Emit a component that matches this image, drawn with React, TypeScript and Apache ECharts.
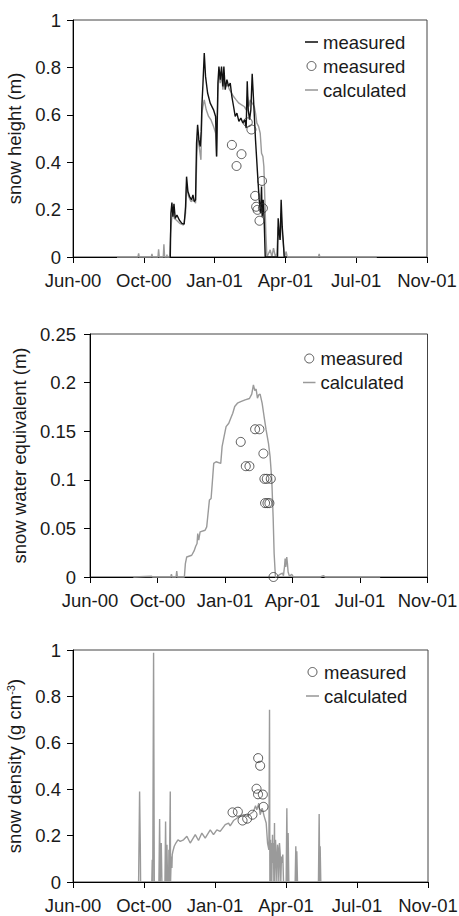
import React, { useEffect, useRef } from 'react';
import * as echarts from 'echarts';

// x values are days counted from the first axis tick (labelled Jun-00); ticks every 100 days
const TICK_LABELS = ['Jun-00', 'Oct-00', 'Jan-01', 'Apr-01', 'Jul-01', 'Nov-01'];

const LEGEND_LABELS: Record<string, string> = {
  'h-meas-line': 'measured',
  'h-meas-pts': 'measured',
  'h-calc': 'calculated',
  'swe-meas': 'measured',
  'swe-calc': 'calculated',
  'rho-meas': 'measured',
  'rho-calc': 'calculated',
};

// snow height (m), measured continuously
const heightMeasured: [number, number][] = [
  [136.4, 0], [137.4, 0], [138.3, 0.184], [139.7, 0.23], [141.1, 0.17], [142.6, 0.224], [144.4, 0.163],
  [146.8, 0.177], [150.1, 0.156], [153.8, 0.142], [157.1, 0.139], [159, 0.213], [160.4, 0.339],
  [162.3, 0.276], [164.7, 0.255], [167.5, 0.241], [169.4, 0.262], [171.3, 0.234], [173.1, 0.241],
  [174.5, 0.48], [176, 0.558], [177.8, 0.494], [179.7, 0.466], [181.1, 0.53], [182.1, 0.642],
  [183.5, 0.727], [185.4, 0.861], [187.2, 0.762], [190.1, 0.692], [193.8, 0.649], [198.5, 0.621],
  [201.4, 0.593], [202.8, 0.424], [204.7, 0.734], [206.1, 0.804], [208, 0.748], [209.8, 0.804],
  [211.7, 0.72], [213.1, 0.804], [215, 0.706], [217.4, 0.748], [219.7, 0.72], [222.1, 0.734],
  [224.4, 0.677], [226.8, 0.635], [229.1, 0.593], [231.5, 0.607], [234.3, 0.572], [237.1, 0.586],
  [239.9, 0.565], [242.8, 0.579], [244.6, 0.544], [246.1, 0.741], [247.5, 0.621], [249.4, 0.579],
  [251.2, 0.621], [253.1, 0.773], [255, 0.663], [257.8, 0.494], [260.6, 0.354], [263, 0.241],
  [264.9, 0.185], [266.3, 0.297], [267.2, 0.17], [268.6, 0.241], [270, 0.156], [271.5, 0],
  [288.9, 0], [289.8, 0.163], [291.2, 0.1], [292.6, 0.072], [294, 0.241], [295.5, 0.128],
  [296.9, 0.072], [298.3, 0], [302.1, 0],
];

// snow height (m), manual measurements
const heightMeasuredPoints: [number, number][] = [
  [224.4, 0.473], [231, 0.384], [238, 0.434], [246.8, 0.568], [252, 0.538], [257.3, 0.258],
  [258.7, 0.212], [260.6, 0.199], [263.4, 0.153], [267, 0.321], [268.2, 0.206],
];

// snow height (m), calculated
const heightCalculated: [number, number][] = [
  [62.1, 0], [91.7, 0], [92.7, 0.015], [93.6, 0], [110.6, 0], [111.5, 0.013], [112.4, 0], [120, 0],
  [120.9, 0.032], [121.9, 0], [127.5, 0], [128.4, 0.054], [129.4, 0], [132.2, 0], [132.7, 0.01],
  [133.1, 0], [136.4, 0], [137.8, 0.1], [139.3, 0.156], [141.1, 0.206], [143, 0.163], [145.8, 0.156],
  [150.6, 0.142], [156.2, 0.135], [159, 0.185], [160.4, 0.297], [163.3, 0.255], [166.5, 0.234],
  [170.3, 0.241], [173.1, 0.227], [175, 0.438], [176.4, 0.508], [178.8, 0.452], [180.7, 0.41],
  [182.1, 0.607], [183.5, 0.635], [185.4, 0.663], [188.2, 0.621], [191.5, 0.593], [194.8, 0.579],
  [198.5, 0.551], [201.4, 0.523], [202.8, 0.424], [204.7, 0.692], [206.1, 0.776], [208, 0.734],
  [209.8, 0.776], [211.7, 0.706], [213.6, 0.748], [215.5, 0.72], [218.3, 0.727], [221.1, 0.706],
  [223.9, 0.692], [226.8, 0.677], [230.5, 0.663], [234.3, 0.649], [238.1, 0.642], [241.8, 0.635],
  [244.6, 0.621], [246.5, 0.677], [248.4, 0.635], [250.3, 0.663], [253.1, 0.649], [256, 0.635],
  [257.8, 0.607], [259.7, 0.565], [262.1, 0.551], [264.4, 0.523], [266.3, 0.438], [268.2, 0.424],
  [269.6, 0.382], [271, 0.241], [272.4, 0.1], [273.9, 0], [276.2, 0.015], [278.5, 0.03], [280.9, 0],
  [283.2, 0.037], [286, 0], [287.9, 0.015], [289.8, 0.128], [291.2, 0.072], [292.6, 0.1], [294, 0.185],
  [295.5, 0.1], [297.4, 0.044], [298.8, 0], [301.1, 0.023], [302.5, 0], [346.7, 0], [347.7, 0.013],
  [348.6, 0], [429.1, 0],
];

// snow water equivalent (m), measured
const sweMeasured: [number, number][] = [
  [223.3, 0.139], [230.8, 0.114], [236.2, 0.114], [244.6, 0.152], [251, 0.152], [256.9, 0.127],
  [258.4, 0.101], [261.9, 0.101], [267.8, 0.101], [259.4, 0.076], [262.9, 0.076], [265.8, 0.076],
  [271.8, 0],
];

// snow water equivalent (m), calculated
const sweCalculated: [number, number][] = [
  [64.2, 0], [91.4, 0.0007], [92.9, 0], [119.6, 0], [120.6, 0.0028], [121.6, 0], [127.5, 0],
  [128.5, 0.0062], [129.5, 0], [137.4, 0], [139.8, 0], [141.3, 0.0138], [143.3, 0.0206],
  [150.7, 0.0224], [154.2, 0.0268], [156.6, 0.0316], [158.6, 0.0344], [159.6, 0.0447],
  [161.1, 0.0378], [163.1, 0.0464], [170.5, 0.0481], [172.9, 0.0516], [174.9, 0.0653],
  [176.9, 0.0791], [179.4, 0.0808], [181.3, 0.098], [183.3, 0.1169], [186.8, 0.1186],
  [193.7, 0.1169], [195.7, 0.1341], [198.6, 0.1444], [201.6, 0.1547], [205.6, 0.1582],
  [208.5, 0.1633], [211.5, 0.1685], [214.4, 0.1754], [218.4, 0.1788], [223.3, 0.1805],
  [229.8, 0.1823], [236.2, 0.1836], [239.6, 0.1881], [242.1, 0.1977], [244.1, 0.1919],
  [246.1, 0.1933], [248.1, 0.184], [250, 0.1874], [252, 0.1881], [255, 0.1788], [257.9, 0.1651],
  [260.9, 0.1513], [264.4, 0.1376], [266.8, 0.1238], [269.3, 0.0997], [271.3, 0.0619],
  [272.8, 0.0241], [274.7, 0], [277.7, 0.0007], [281.6, 0.0028], [285.1, 0.0041], [286.6, 0.0014],
  [288.1, 0.0103], [289.1, 0.0189], [290, 0.0103], [291.5, 0.0206], [292.5, 0.0138],
  [293.5, 0.0052], [295.5, 0.0007], [298.9, 0.0028], [301.4, 0], [340.9, 0], [345.9, 0.0014],
  [348.4, 0], [429.9, 0],
];

// snow density (g cm-3), measured
const densityMeasured: [number, number][] = [
  [224.7, 0.3], [232.2, 0.303], [238.8, 0.265], [245.3, 0.273], [252.8, 0.29], [260.8, 0.534],
  [263.6, 0.501], [258.5, 0.402], [260.6, 0.378], [267.4, 0.377], [268.3, 0.324],
];

// snow density (g cm-3), calculated; null = no snow (gap)
const densityCalculated: [number, number | null][] = [
  [92.4, 0], [93.8, 0.39], [94.8, 0.154], [95.2, 0], [95.5, null],
  [111, 0], [111.6, 0.096], [112.3, 0], [113.5, 0.988], [114.5, 0], [115, null],
  [121, 0], [122, 0.271], [122.9, 0], [124.3, 0.168], [125.2, 0], [126, null],
  [129.5, 0], [130.4, 0.261], [131.3, 0], [132.3, 0.161], [133.2, 0], [133.8, null],
  [134.6, 0], [135.1, 0.139], [135.6, 0], [136.5, 0], [137, 0.39], [137.4, 0], [138.4, 0.11],
  [139.3, 0.06], [139.8, 0.118], [140.7, 0.132], [142.6, 0.154], [144.9, 0.168], [147.8, 0.182],
  [151, 0.175], [155.7, 0.182], [160.4, 0.197], [165.1, 0.168], [172.2, 0.204], [176.8, 0.179],
  [181.5, 0.211], [186.2, 0.189], [193.3, 0.225], [197.9, 0.204], [202.6, 0.225], [207.3, 0.218],
  [214.4, 0.247], [219.1, 0.254], [221.4, 0.242], [226.1, 0.265], [230.8, 0.275], [235.5, 0.283],
  [240.2, 0.29], [244.9, 0.283], [249.6, 0.293], [254.2, 0.304], [257.1, 0.329], [258.9, 0.311],
  [261.7, 0.34], [263.6, 0.29], [266.4, 0.318], [269.3, 0.283], [272.1, 0.254], [274, 0.168],
  [275.9, 0.139], [276.8, 0.742], [277.3, 0], [278.2, 0.182], [278.7, 0], [279.6, 0.168], [280, 0],
  [281, 0.204], [281.4, 0.082], [282.4, 0.168], [282.9, 0], [283.8, 0.254], [284.3, 0],
  [285.2, 0.182], [286.2, 0.11], [287.1, 0], [288.1, 0.161], [289, 0.139], [289.9, 0],
  [290.8, 0.168], [291.8, 0.125], [292.7, 0], [293.6, 0.11], [294.6, 0.082], [295.5, 0.118],
  [296.5, 0], [297, null],
  [300.2, 0], [301.2, 0.318], [302.1, 0], [303, 0.211], [304, 0], [304.5, null],
  [312.9, 0], [313.8, 0.154], [314.8, 0], [315.2, 0.132], [316.2, 0], [316.8, null],
  [345.7, 0], [346.7, 0.293], [347.6, 0], [348.1, 0.154], [349, 0],
];

const FONT = "'Liberation Sans', Arial, sans-serif";
const FS = 18.5;
const TEXT = '#1a1a1a';
const GRAY = '#9a9a9a';
const BLACK = '#111111';
const CIRCLE_EDGE = '#333333';
const DASH_ICON = 'path://M0,0 H100 V12 H0 Z';

function buildOption() {
  const grids = [
    { left: 73, top: 20, width: 354, height: 237 },
    { left: 90, top: 334, width: 337.5, height: 243 },
    { left: 73, top: 650, width: 355, height: 232 },
  ].map((g) => ({
    ...g,
    show: true,
    borderColor: '#444',
    borderWidth: 1,
    backgroundColor: 'transparent',
    containLabel: false,
    outerBoundsMode: 'none',
  }));

  const xAxes = [0, 1, 2].map((i) => ({
    type: 'value',
    gridIndex: i,
    min: 0,
    max: 500,
    interval: 100,
    splitLine: { show: false },
    axisLine: { show: true, onZero: false, lineStyle: { color: '#000', width: 1 } },
    axisTick: { show: true, length: 6, lineStyle: { color: '#000' } },
    axisLabel: {
      show: true,
      margin: 14,
      fontSize: FS,
      fontFamily: FONT,
      color: TEXT,
      showMinLabel: true,
      showMaxLabel: true,
      formatter: (v: number) => TICK_LABELS[Math.round(v / 100)] ?? '',
    },
  }));

  const yBase = (i: number, max: number, interval: number, name: string, nameGap: number, margin: number, rich?: any) => ({
    type: 'value',
    gridIndex: i,
    min: 0,
    max,
    interval,
    name,
    nameLocation: 'middle',
    nameGap,
    nameRotate: 90,
    nameTextStyle: { fontSize: FS, fontFamily: FONT, color: TEXT, rich },
    splitLine: { show: false },
    axisLine: { show: true, onZero: false, lineStyle: { color: '#000', width: 1 } },
    axisTick: { show: true, length: 6, lineStyle: { color: '#000' } },
    axisLabel: { show: true, margin, fontSize: FS, fontFamily: FONT, color: TEXT },
  });

  const yAxes = [
    yBase(0, 1, 0.2, 'snow height (m)', 44, 12),
    yBase(1, 0.25, 0.05, 'snow water equivalent (m)', 53, 14),
    yBase(2, 1, 0.2, 'snow density (g cm{sup|-3})', 39, 12, {
      sup: { fontSize: 11, fontFamily: FONT, color: TEXT, verticalAlign: 'top' },
    }),
  ];

  const lineSeries = (id: string, idx: number, data: any[], color: string, z: number) => ({
    name: id,
    type: 'line',
    xAxisIndex: idx,
    yAxisIndex: idx,
    data,
    symbol: 'none',
    showSymbol: false,
    clip: false,
    connectNulls: false,
    lineStyle: { color, width: 1.4 },
    itemStyle: { color },
    z,
  });

  const scatterSeries = (id: string, idx: number, data: any[]) => ({
    name: id,
    type: 'scatter',
    xAxisIndex: idx,
    yAxisIndex: idx,
    data,
    symbol: 'circle',
    symbolSize: 9,
    clip: false,
    itemStyle: { color: 'rgba(255,255,255,0)', borderColor: CIRCLE_EDGE, borderWidth: 1 },
    z: 5,
  });

  const lineItem = (name: string, color: string) => ({
    name,
    icon: DASH_ICON,
    itemStyle: { color, borderWidth: 0 },
  });
  const circleItem = (name: string) => ({
    name,
    icon: 'circle',
    itemStyle: { color: 'rgba(255,255,255,0)', borderColor: CIRCLE_EDGE, borderWidth: 1 },
  });

  const legend = (left: number, top: number, data: any[], itemWidth: number) => ({
    orient: 'vertical',
    left,
    top,
    padding: 0,
    itemWidth,
    itemHeight: 9,
    itemGap: 5,
    selectedMode: false,
    symbolKeepAspect: true,
    data,
    formatter: (n: string) => LEGEND_LABELS[n] ?? n,
    textStyle: { fontSize: FS, fontFamily: FONT, color: TEXT },
  });

  return {
    animation: false,
    backgroundColor: '#ffffff',
    grid: grids,
    xAxis: xAxes,
    yAxis: yAxes,
    legend: [
      legend(305, 32.5, [lineItem('h-meas-line', BLACK), circleItem('h-meas-pts'), lineItem('h-calc', GRAY)], 13),
      legend(303, 349, [circleItem('swe-meas'), lineItem('swe-calc', GRAY)], 12.5),
      legend(306, 662.5, [circleItem('rho-meas'), lineItem('rho-calc', GRAY)], 13),
    ],
    series: [
      lineSeries('h-calc', 0, heightCalculated, GRAY, 2),
      lineSeries('h-meas-line', 0, heightMeasured, BLACK, 3),
      scatterSeries('h-meas-pts', 0, heightMeasuredPoints),
      lineSeries('swe-calc', 1, sweCalculated, GRAY, 2),
      scatterSeries('swe-meas', 1, sweMeasured),
      lineSeries('rho-calc', 2, densityCalculated, GRAY, 2),
      scatterSeries('rho-meas', 2, densityMeasured),
    ],
  };
}

export default function App() {
  const ref = useRef<HTMLDivElement>(null);
  useEffect(() => {
    if (!ref.current) return;
    const chart = echarts.init(ref.current, null, { renderer: 'svg' });
    chart.setOption(buildOption() as any);
    return () => chart.dispose();
  }, []);
  return (
    <div
      ref={ref}
      style={{ position: 'fixed', left: 0, top: 0, width: 459, height: 916, background: '#fff' }}
    />
  );
}
